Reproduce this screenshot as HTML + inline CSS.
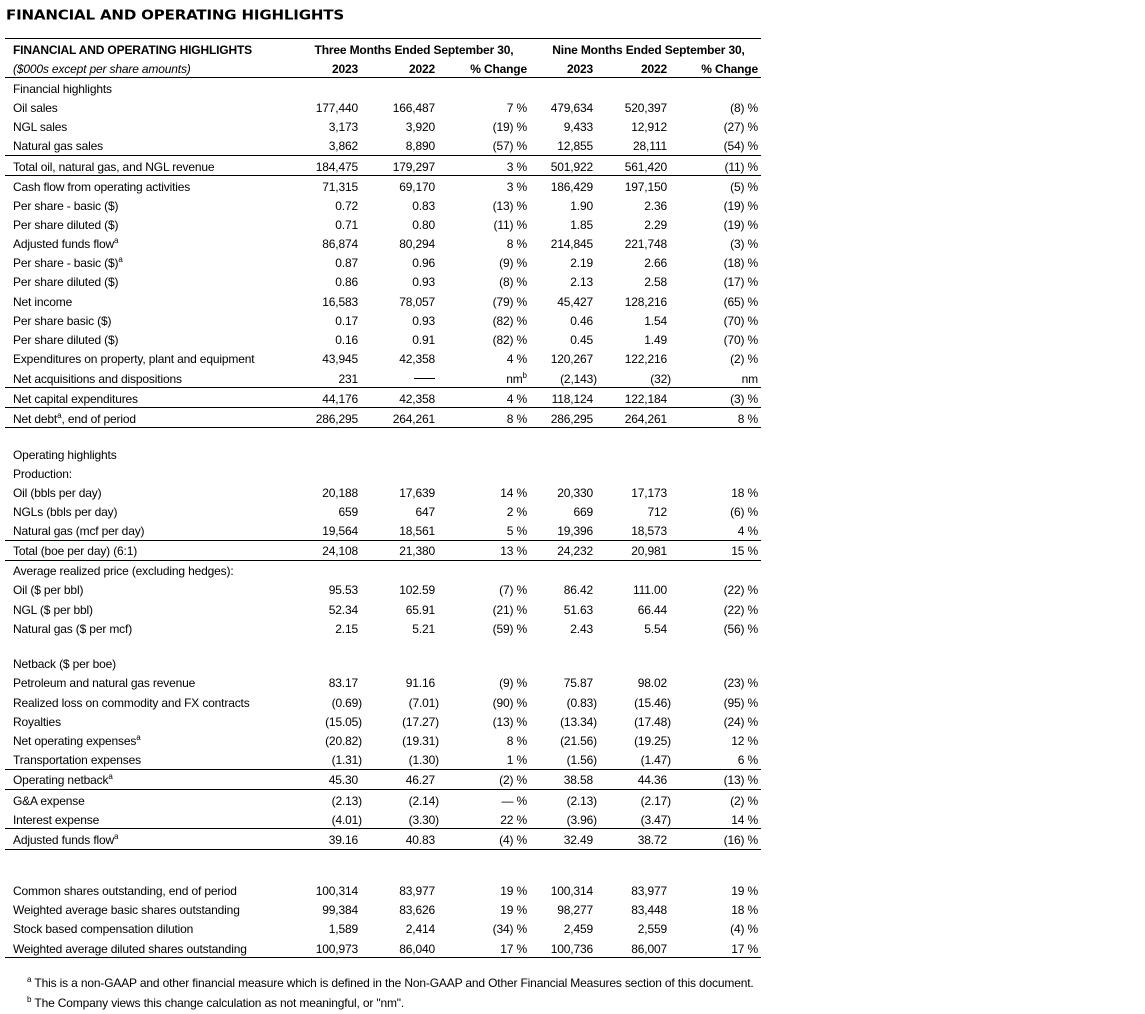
<!DOCTYPE html>
<html><head><meta charset="utf-8"><style>
body{margin:0;width:1145px;height:1014px;background:#fff;position:relative;font-family:"Liberation Sans",Arial,sans-serif;font-size:12px;letter-spacing:-0.16px;color:#000;overflow:hidden}
.r{position:absolute;left:0;width:1145px;height:20px;line-height:20px;white-space:nowrap}
.r span{position:absolute}
.l{left:13px}
.a{right:783px;padding-right:4px}
.b{right:706px;padding-right:4px}
.c{right:618px}
.d{right:548px;padding-right:4px}
.e{right:474px;padding-right:4px}
.f{right:387px}
.r span.n{padding-right:0}
.hr{position:absolute;left:5px;width:756px;height:1px;background:#000}
sup{font-size:8px;vertical-align:0;position:relative;top:-5px;line-height:0;letter-spacing:0}
.bold{font-weight:bold}
.dash{display:inline-block;width:21px;height:1px;background:#000;vertical-align:middle;margin-bottom:3px}
</style></head><body>
<svg style="position:absolute;left:0;top:0" width="400" height="30"><text x="6" y="19.5" font-family="DejaVu Sans, sans-serif" font-weight="bold" font-size="13" textLength="338" lengthAdjust="spacingAndGlyphs">FINANCIAL AND OPERATING HIGHLIGHTS</text></svg>

<div class="hr" style="top:38px"></div>
<div class="hr" style="top:77px"></div>
<div class="hr" style="top:155px"></div>
<div class="hr" style="top:175px"></div>
<div class="hr" style="top:387px"></div>
<div class="hr" style="top:407px"></div>
<div class="hr" style="top:427px"></div>
<div class="hr" style="top:540px"></div>
<div class="hr" style="top:560px"></div>
<div class="hr" style="top:769px"></div>
<div class="hr" style="top:789px"></div>
<div class="hr" style="top:828px"></div>
<div class="hr" style="top:849px"></div>
<div class="hr" style="top:957px"></div>

<div class="r bold" style="top:40px"><span class="l">FINANCIAL AND OPERATING HIGHLIGHTS</span><span style="left:314px;width:200px;text-align:center">Three Months Ended September 30,</span><span style="left:548px;width:201px;text-align:center">Nine Months Ended September 30,</span></div>
<div class="r bold" style="top:59.3px"><span class="l" style="font-weight:normal;font-style:italic">($000s except per share amounts)</span><span style="right:787px">2023</span><span style="right:710px">2022</span><span class="c">% Change</span><span style="right:552px">2023</span><span style="right:478px">2022</span><span class="f">% Change</span></div>

<div class="r" style="top:78.7px"><span class="l">Financial highlights</span></div>
<div class="r" style="top:97.7px"><span class="l">Oil sales</span><span class="a">177,440</span><span class="b">166,487</span><span class="c">7 %</span><span class="d">479,634</span><span class="e">520,397</span><span class="f">(8) %</span></div>
<div class="r" style="top:117.3px"><span class="l">NGL sales</span><span class="a">3,173</span><span class="b">3,920</span><span class="c">(19) %</span><span class="d">9,433</span><span class="e">12,912</span><span class="f">(27) %</span></div>
<div class="r" style="top:136px"><span class="l">Natural gas sales</span><span class="a">3,862</span><span class="b">8,890</span><span class="c">(57) %</span><span class="d">12,855</span><span class="e">28,111</span><span class="f">(54) %</span></div>
<div class="r" style="top:156.5px"><span class="l">Total oil, natural gas, and NGL revenue</span><span class="a">184,475</span><span class="b">179,297</span><span class="c">3 %</span><span class="d">501,922</span><span class="e">561,420</span><span class="f">(11) %</span></div>
<div class="r" style="top:176.7px"><span class="l">Cash flow from operating activities</span><span class="a">71,315</span><span class="b">69,170</span><span class="c">3 %</span><span class="d">186,429</span><span class="e">197,150</span><span class="f">(5) %</span></div>
<div class="r" style="top:195.7px"><span class="l">Per share - basic ($)</span><span class="a">0.72</span><span class="b">0.83</span><span class="c">(13) %</span><span class="d">1.90</span><span class="e">2.36</span><span class="f">(19) %</span></div>
<div class="r" style="top:214.7px"><span class="l">Per share diluted ($)</span><span class="a">0.71</span><span class="b">0.80</span><span class="c">(11) %</span><span class="d">1.85</span><span class="e">2.29</span><span class="f">(19) %</span></div>
<div class="r" style="top:234.3px"><span class="l">Adjusted funds flow<sup>a</sup></span><span class="a">86,874</span><span class="b">80,294</span><span class="c">8 %</span><span class="d">214,845</span><span class="e">221,748</span><span class="f">(3) %</span></div>
<div class="r" style="top:253.3px"><span class="l">Per share - basic ($)<sup>a</sup></span><span class="a">0.87</span><span class="b">0.96</span><span class="c">(9) %</span><span class="d">2.19</span><span class="e">2.66</span><span class="f">(18) %</span></div>
<div class="r" style="top:272.3px"><span class="l">Per share diluted ($)</span><span class="a">0.86</span><span class="b">0.93</span><span class="c">(8) %</span><span class="d">2.13</span><span class="e">2.58</span><span class="f">(17) %</span></div>
<div class="r" style="top:291.7px"><span class="l">Net income</span><span class="a">16,583</span><span class="b">78,057</span><span class="c">(79) %</span><span class="d">45,427</span><span class="e">128,216</span><span class="f">(65) %</span></div>
<div class="r" style="top:311px"><span class="l">Per share basic ($)</span><span class="a">0.17</span><span class="b">0.93</span><span class="c">(82) %</span><span class="d">0.46</span><span class="e">1.54</span><span class="f">(70) %</span></div>
<div class="r" style="top:330.3px"><span class="l">Per share diluted ($)</span><span class="a">0.16</span><span class="b">0.91</span><span class="c">(82) %</span><span class="d">0.45</span><span class="e">1.49</span><span class="f">(70) %</span></div>
<div class="r" style="top:349.3px"><span class="l">Expenditures on property, plant and equipment</span><span class="a">43,945</span><span class="b">42,358</span><span class="c">4 %</span><span class="d">120,267</span><span class="e">122,216</span><span class="f">(2) %</span></div>
<div class="r" style="top:368.7px"><span class="l">Net acquisitions and dispositions</span><span class="a">231</span><span class="b"><i class="dash"></i></span><span class="c">nm<sup>b</sup></span><span class="d n">(2,143)</span><span class="e n">(32)</span><span class="f">nm</span></div>
<div class="r" style="top:388.7px"><span class="l">Net capital expenditures</span><span class="a">44,176</span><span class="b">42,358</span><span class="c">4 %</span><span class="d">118,124</span><span class="e">122,184</span><span class="f">(3) %</span></div>
<div class="r" style="top:408.7px"><span class="l">Net debt<sup>a</sup>, end of period</span><span class="a">286,295</span><span class="b">264,261</span><span class="c">8 %</span><span class="d">286,295</span><span class="e">264,261</span><span class="f">8 %</span></div>

<div class="r" style="top:444.7px"><span class="l">Operating highlights</span></div>
<div class="r" style="top:463.7px"><span class="l">Production:</span></div>
<div class="r" style="top:483px"><span class="l">Oil (bbls per day)</span><span class="a">20,188</span><span class="b">17,639</span><span class="c">14 %</span><span class="d">20,330</span><span class="e">17,173</span><span class="f">18 %</span></div>
<div class="r" style="top:502px"><span class="l">NGLs (bbls per day)</span><span class="a">659</span><span class="b">647</span><span class="c">2 %</span><span class="d">669</span><span class="e">712</span><span class="f">(6) %</span></div>
<div class="r" style="top:521px"><span class="l">Natural gas (mcf per day)</span><span class="a">19,564</span><span class="b">18,561</span><span class="c">5 %</span><span class="d">19,396</span><span class="e">18,573</span><span class="f">4 %</span></div>
<div class="r" style="top:541.3px"><span class="l">Total (boe per day) (6:1)</span><span class="a">24,108</span><span class="b">21,380</span><span class="c">13 %</span><span class="d">24,232</span><span class="e">20,981</span><span class="f">15 %</span></div>
<div class="r" style="top:561px"><span class="l">Average realized price (excluding hedges):</span></div>
<div class="r" style="top:580.3px"><span class="l">Oil ($ per bbl)</span><span class="a">95.53</span><span class="b">102.59</span><span class="c">(7) %</span><span class="d">86.42</span><span class="e">111.00</span><span class="f">(22) %</span></div>
<div class="r" style="top:599.5px"><span class="l">NGL ($ per bbl)</span><span class="a">52.34</span><span class="b">65.91</span><span class="c">(21) %</span><span class="d">51.63</span><span class="e">66.44</span><span class="f">(22) %</span></div>
<div class="r" style="top:618.7px"><span class="l">Natural gas ($ per mcf)</span><span class="a">2.15</span><span class="b">5.21</span><span class="c">(59) %</span><span class="d">2.43</span><span class="e">5.54</span><span class="f">(56) %</span></div>

<div class="r" style="top:654.3px"><span class="l">Netback ($ per boe)</span></div>
<div class="r" style="top:673.3px"><span class="l">Petroleum and natural gas revenue</span><span class="a">83.17</span><span class="b">91.16</span><span class="c">(9) %</span><span class="d">75.87</span><span class="e">98.02</span><span class="f">(23) %</span></div>
<div class="r" style="top:692.7px"><span class="l">Realized loss on commodity and FX contracts</span><span class="a n">(0.69)</span><span class="b n">(7.01)</span><span class="c">(90) %</span><span class="d n">(0.83)</span><span class="e n">(15.46)</span><span class="f">(95) %</span></div>
<div class="r" style="top:711.7px"><span class="l">Royalties</span><span class="a n">(15.05)</span><span class="b n">(17.27)</span><span class="c">(13) %</span><span class="d n">(13.34)</span><span class="e n">(17.48)</span><span class="f">(24) %</span></div>
<div class="r" style="top:731px"><span class="l">Net operating expenses<sup>a</sup></span><span class="a n">(20.82)</span><span class="b n">(19.31)</span><span class="c">8 %</span><span class="d n">(21.56)</span><span class="e n">(19.25)</span><span class="f">12 %</span></div>
<div class="r" style="top:750px"><span class="l">Transportation expenses</span><span class="a n">(1.31)</span><span class="b n">(1.30)</span><span class="c">1 %</span><span class="d n">(1.56)</span><span class="e n">(1.47)</span><span class="f">6 %</span></div>
<div class="r" style="top:770.3px"><span class="l">Operating netback<sup>a</sup></span><span class="a">45.30</span><span class="b">46.27</span><span class="c">(2) %</span><span class="d">38.58</span><span class="e">44.36</span><span class="f">(13) %</span></div>
<div class="r" style="top:791px"><span class="l">G&amp;A expense</span><span class="a n">(2.13)</span><span class="b n">(2.14)</span><span class="c">— %</span><span class="d n">(2.13)</span><span class="e n">(2.17)</span><span class="f">(2) %</span></div>
<div class="r" style="top:810px"><span class="l">Interest expense</span><span class="a n">(4.01)</span><span class="b n">(3.30)</span><span class="c">22 %</span><span class="d n">(3.96)</span><span class="e n">(3.47)</span><span class="f">14 %</span></div>
<div class="r" style="top:830px"><span class="l">Adjusted funds flow<sup>a</sup></span><span class="a">39.16</span><span class="b">40.83</span><span class="c">(4) %</span><span class="d">32.49</span><span class="e">38.72</span><span class="f">(16) %</span></div>

<div class="r" style="top:880.7px"><span class="l">Common shares outstanding, end of period</span><span class="a">100,314</span><span class="b">83,977</span><span class="c">19 %</span><span class="d">100,314</span><span class="e">83,977</span><span class="f">19 %</span></div>
<div class="r" style="top:899.7px"><span class="l">Weighted average basic shares outstanding</span><span class="a">99,384</span><span class="b">83,626</span><span class="c">19 %</span><span class="d">98,277</span><span class="e">83,448</span><span class="f">18 %</span></div>
<div class="r" style="top:918.7px"><span class="l">Stock based compensation dilution</span><span class="a">1,589</span><span class="b">2,414</span><span class="c">(34) %</span><span class="d">2,459</span><span class="e">2,559</span><span class="f">(4) %</span></div>
<div class="r" style="top:938.7px"><span class="l">Weighted average diluted shares outstanding</span><span class="a">100,973</span><span class="b">86,040</span><span class="c">17 %</span><span class="d">100,736</span><span class="e">86,007</span><span class="f">17 %</span></div>

<div class="r" style="top:973.3px"><span style="left:27px"><sup>a</sup> This is a non-GAAP and other financial measure which is defined in the Non-GAAP and Other Financial Measures section of this document.</span></div>
<div class="r" style="top:992.7px"><span style="left:27px"><sup>b</sup> The Company views this change calculation as not meaningful, or "nm".</span></div>
</body></html>
